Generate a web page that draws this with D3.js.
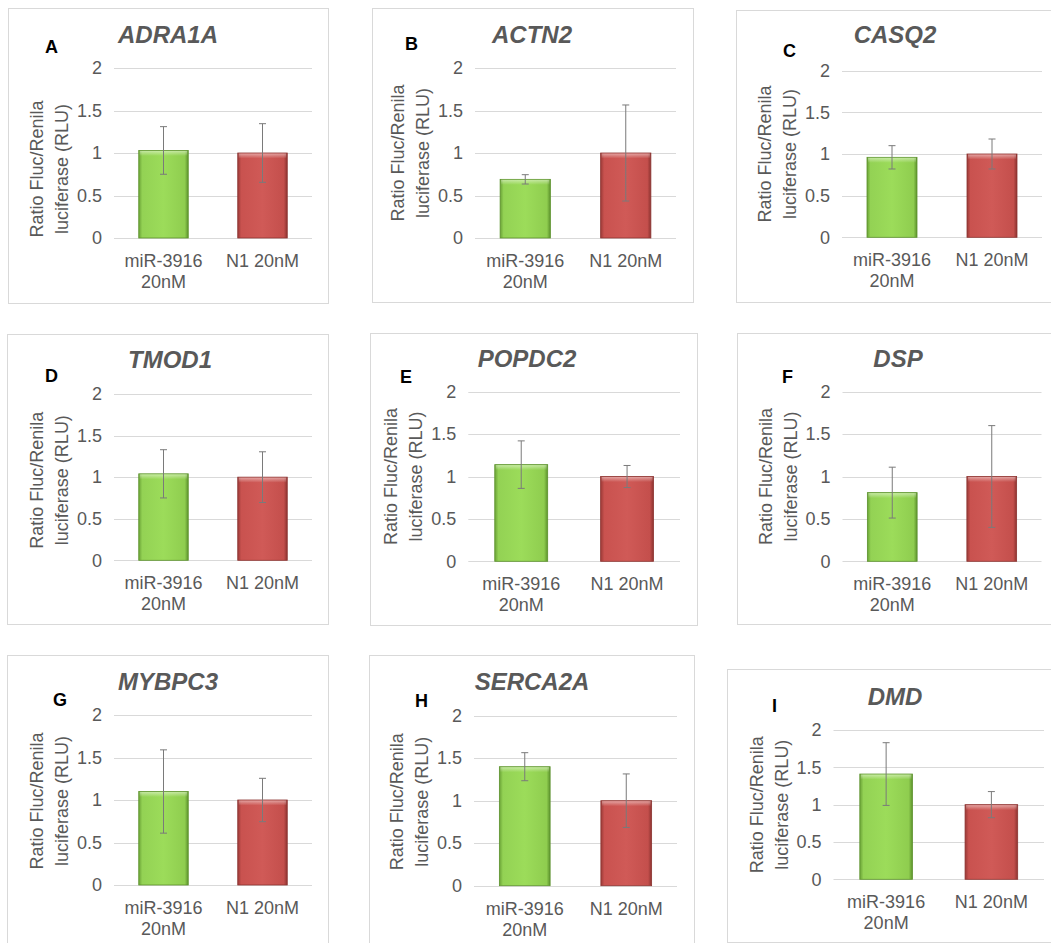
<!DOCTYPE html>
<html>
<head>
<meta charset="utf-8">
<script src="https://cdn.jsdelivr.net/npm/d3@7"></script>
<style>
body { margin:0; background:#fff; }
svg { display:block; }
</style>
</head>
<body>
<div class="container"></div>
<script>
// chart values
var letters = ['A','B','C','D','E','F','G','H','I'];
var genes = ['ADRA1A','ACTN2','CASQ2','TMOD1','POPDC2','DSP','MYBPC3','SERCA2A','DMD'];
var categories = ['miR-3916 20nM','N1 20nM'];
var mirMeans = [1.03, 0.69, 0.96, 1.04, 1.14, 0.81, 1.10, 1.40, 1.41];
var mirErr   = [0.28, 0.055, 0.14, 0.29, 0.28, 0.30, 0.49, 0.165, 0.42];
var n1Means  = [1, 1, 1, 1, 1, 1, 1, 1, 1];
var n1Err    = [0.345, 0.565, 0.18, 0.305, 0.13, 0.60, 0.255, 0.315, 0.175];
var yTicks = [0, 0.5, 1, 1.5, 2];
var yTickLabels = ['0', '0.5', '1', '1.5', '2'];
var yTitle = ['Ratio Fluc/Renila', 'luciferase (RLU)'];

// where each panel sits: box [x,y,w,h], plot [left,right,top,bottom], title, letter, y-title shift
var layout = [
	{box:[8,8,320,295],   plot:[114,312,68,238],         title:[168,43],  letter:[45,53],  yt:16},
	{box:[372,8,321,294], plot:[475,676,68,238],         title:[532,43],  letter:[405,50], yt:0},
	{box:[736,10,330,292],plot:[842,1042,70.7,237.3],    title:[895,43],  letter:[783,57], yt:0},
	{box:[7,334,321,290], plot:[114,312,394,560.3],      title:[170,368], letter:[45,382], yt:3},
	{box:[370,333,327,292],plot:[468.3,680,391.7,561.3], title:[527,367], letter:[400,383],yt:0},
	{box:[737,333,330,291],plot:[842.5,1041.5,391.7,561.3],title:[898,367],letter:[782,383],yt:0},
	{box:[7,655,321,300], plot:[114,312,715,885],        title:[168,690], letter:[53,706], yt:1},
	{box:[369,655,325,300],plot:[474,677,715.7,885.7],   title:[532,690], letter:[415,707],yt:1},
	{box:[727,669,330,273],plot:[833.5,1044,730,879.3],  title:[895,705], letter:[772,712],yt:0}
];

var W = 1051, H = 943;
var FONT = "'Liberation Sans', Arial, sans-serif";
var GREY = '#595959';

var svg = d3.select('.container').append('svg')
	.attr('width', W)
	.attr('height', H);

var defs = svg.append('defs');

function barGradient(id, stops) {
	var g = defs.append('linearGradient').attr('id', id)
		.attr('x1', '0').attr('x2', '1').attr('y1', '0').attr('y2', '0');
	stops.forEach(function(s){
		g.append('stop').attr('offset', s[0]).attr('stop-color', s[1]);
	});
}
barGradient('gGreen', [[0,'#6aa236'],[0.07,'#93d254'],[0.5,'#9cdc5a'],[0.93,'#8fcd4f'],[1,'#5c922c']]);
barGradient('gRed',   [[0,'#9a3a37'],[0.07,'#c9524f'],[0.5,'#d05a57'],[0.93,'#c44f4c'],[1,'#8c3330']]);

var topShine = defs.append('linearGradient').attr('id', 'shine')
	.attr('x1', '0').attr('x2', '0').attr('y1', '0').attr('y2', '1');
topShine.append('stop').attr('offset', 0).attr('stop-color', '#fff').attr('stop-opacity', 0.45);
topShine.append('stop').attr('offset', 1).attr('stop-color', '#fff').attr('stop-opacity', 0);

var fills = ['url(#gGreen)', 'url(#gRed)'];
var strokes = ['#5c922c', '#8c3330'];

function wrap(sel, maxW) {
	sel.each(function(){
		var t = d3.select(this);
		var words = t.text().split(' ');
		var x = t.attr('x');
		t.text(null);
		var lines = [], cur = [];
		var probe = t.append('tspan');
		words.forEach(function(w){
			var test = cur.concat([w]).join(' ');
			probe.text(test);
			if (probe.node().getComputedTextLength() > maxW && cur.length) {
				lines.push(cur.join(' '));
				cur = [w];
			} else {
				cur.push(w);
			}
		});
		lines.push(cur.join(' '));
		probe.remove();
		lines.forEach(function(l, i){
			t.append('tspan').attr('x', x).attr('dy', i === 0 ? 0 : 21).text(l);
		});
	});
}

layout.forEach(function(L, i){
	var g = svg.append('g');
	var pl = L.plot[0], pr = L.plot[1], pt = L.plot[2], pb = L.plot[3];

	// panel frame
	g.append('rect')
		.attr('x', L.box[0] + 0.5).attr('y', L.box[1] + 0.5)
		.attr('width', L.box[2]).attr('height', L.box[3])
		.attr('fill', 'none').attr('stroke', '#d9d9d9').attr('stroke-width', 1);

	var x = d3.scaleBand().domain(categories).range([pl, pr])
		.paddingInner(0.5).paddingOuter(0.25);
	var y = d3.scaleLinear().domain([0, 2]).range([pb, pt]);

	// gridlines
	g.selectAll('.grid').data(yTicks).enter().append('line')
		.attr('x1', pl).attr('x2', pr)
		.attr('y1', function(d){ return Math.round(y(d)) + 0.5; })
		.attr('y2', function(d){ return Math.round(y(d)) + 0.5; })
		.attr('stroke', '#d9d9d9').attr('stroke-width', 1);

	// y axis labels
	var ax = g.append('g').attr('transform', 'translate(' + pl + ',0)')
		.call(d3.axisLeft(y).tickValues(yTicks).tickSize(0).tickPadding(12)
			.tickFormat(function(d, k){ return yTickLabels[k]; }));
	ax.select('.domain').remove();
	ax.selectAll('text').attr('fill', GREY).style('font-size', '18px').style('font-family', FONT);

	// y axis title, two rotated lines
	var cy = (pt + pb) / 2 + L.yt;
	yTitle.forEach(function(line, k){
		g.append('text')
			.attr('transform', 'translate(' + (pl - 71 + k * 25) + ',' + cy + ') rotate(-90)')
			.attr('text-anchor', 'middle')
			.attr('fill', GREY)
			.style('font-size', '18px').style('font-family', FONT)
			.text(line);
	});

	// bars
	var vals = [
		{c: categories[0], v: mirMeans[i], e: mirErr[i]},
		{c: categories[1], v: n1Means[i], e: n1Err[i]}
	];
	var bars = g.selectAll('.bar').data(vals).enter().append('g');
	bars.append('rect')
		.attr('x', function(d){ return x(d.c); })
		.attr('y', function(d){ return y(d.v); })
		.attr('width', x.bandwidth())
		.attr('height', function(d){ return y(0) - y(d.v); })
		.attr('fill', function(d, k){ return fills[k]; })
		.attr('stroke', function(d, k){ return strokes[k]; })
		.attr('stroke-width', 0.8);
	bars.append('rect')
		.attr('x', function(d){ return x(d.c) + 1; })
		.attr('y', function(d){ return y(d.v) + 0.5; })
		.attr('width', x.bandwidth() - 2)
		.attr('height', 5)
		.attr('fill', 'url(#shine)');

	// error bars
	var eb = g.selectAll('.err').data(vals).enter().append('g')
		.attr('stroke', '#7a7a7a').attr('stroke-width', 1);
	eb.append('line')
		.attr('x1', function(d){ return x(d.c) + x.bandwidth() / 2; })
		.attr('x2', function(d){ return x(d.c) + x.bandwidth() / 2; })
		.attr('y1', function(d){ return y(d.v + d.e); })
		.attr('y2', function(d){ return y(d.v - d.e); });
	[1, -1].forEach(function(s){
		eb.append('line')
			.attr('x1', function(d){ return x(d.c) + x.bandwidth() / 2 - 3.5; })
			.attr('x2', function(d){ return x(d.c) + x.bandwidth() / 2 + 3.5; })
			.attr('y1', function(d){ return y(d.v + s * d.e); })
			.attr('y2', function(d){ return y(d.v + s * d.e); });
	});

	// category labels
	g.selectAll('.cat').data(categories).enter().append('text')
		.attr('x', function(d){ return x(d) + x.bandwidth() / 2; })
		.attr('y', pb + 29)
		.attr('text-anchor', 'middle')
		.attr('fill', GREY)
		.style('font-size', '18px').style('font-family', FONT)
		.text(function(d){ return d; })
		.call(wrap, x.step());

	// gene title
	g.append('text')
		.attr('x', L.title[0]).attr('y', L.title[1])
		.attr('text-anchor', 'middle')
		.attr('fill', GREY)
		.style('font-size', '24px').style('font-weight', 'bold').style('font-style', 'italic')
		.style('font-family', FONT)
		.text(genes[i]);

	// panel letter
	g.append('text')
		.attr('x', L.letter[0]).attr('y', L.letter[1])
		.attr('fill', '#000')
		.style('font-size', '18px').style('font-weight', 'bold')
		.style('font-family', FONT)
		.text(letters[i]);
});
</script>
</body>
</html>
